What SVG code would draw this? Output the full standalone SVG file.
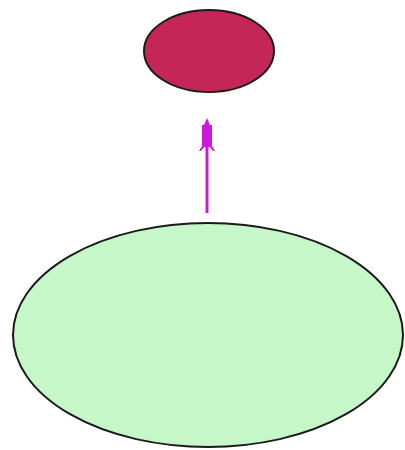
<svg xmlns="http://www.w3.org/2000/svg" width="405" height="450" viewBox="0 0 405 450">
<defs>
<style>
.node{stroke:#1a1a1a;stroke-width:2}
.edge{stroke:#cc18dd;stroke-width:3;fill:none}
.head{fill:#cc18dd}
</style>
</defs>
<rect width="405" height="450" fill="#ffffff"/>
<g id="top-node">
<ellipse class="node" cx="209" cy="51" rx="65" ry="41" fill="#c42658"/>
</g>
<g id="bottom-node">
<ellipse class="node" cx="208" cy="335" rx="195" ry="112" fill="#c6f7c8"/>
</g>
<g id="connectors">
<path class="edge" d="M207,213 L207,126"/>
<path class="head" d="M207,118 L210,125 L212,125 L212,146 L215,151 L213,151 L210,147 L204,147 L201,151 L199,151 L202,146 L202,125 L204,125 Z"/>
</g>
</svg>
